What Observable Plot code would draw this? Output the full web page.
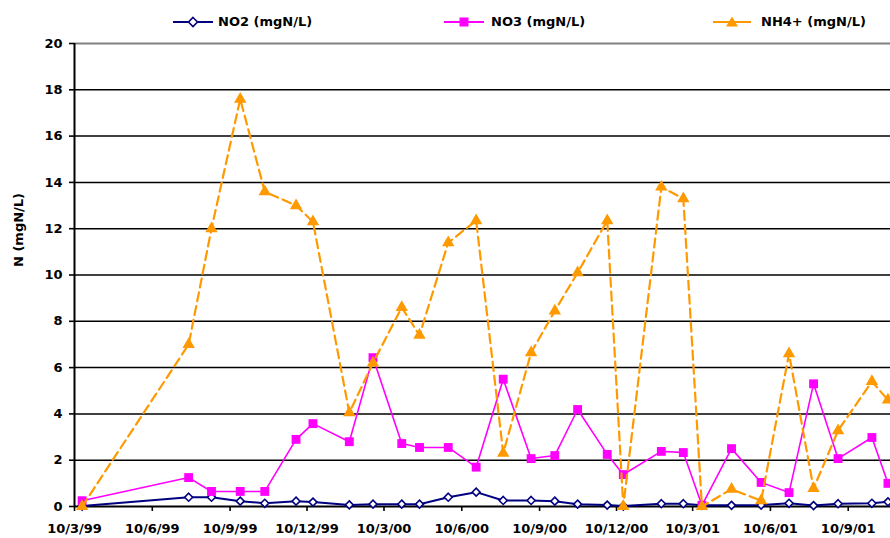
<!DOCTYPE html>
<html><head><meta charset="utf-8">
<script src="https://cdn.jsdelivr.net/npm/d3@7"></script>
<script src="https://cdn.jsdelivr.net/npm/@observablehq/plot@0.6"></script>
<style>
body{margin:0;background:#fff;font-family:"DejaVu Sans",sans-serif;font-weight:bold;font-size:13px;color:#000}
#wrap{position:relative;width:890px;height:538px;overflow:hidden;background:#fff}
#legend{position:relative;height:30px}
.sym{position:absolute;top:0;height:30px}
.lab{position:absolute;top:14px;line-height:16px;white-space:nowrap}
#chart svg [aria-label^="x-axis"] path,#chart svg [aria-label^="y-axis"] path,
#chart svg [aria-label^="x-axis"] line,#chart svg [aria-label^="y-axis"] line{stroke-width:1.6}
</style></head><body>
<div id="wrap"><div id="legend"></div><div id="chart"></div></div>
<script>
// sample dates (day/month/year)
const dates = ["19/3/1999","23/7/1999","19/8/1999","22/9/1999","21/10/1999","27/11/1999","17/12/1999",
  "29/1/2000","26/2/2000","31/3/2000","21/4/2000","25/5/2000","27/6/2000","29/7/2000","31/8/2000",
  "28/9/2000","25/10/2000","29/11/2000","18/12/2000","1/2/2001","27/2/2001","21/3/2001","25/4/2001",
  "30/5/2001","2/7/2001","31/7/2001","29/8/2001","8/10/2001","27/10/2001"];
const no2 = [0.02,0.40,0.40,0.23,0.14,0.23,0.19,0.07,0.10,0.10,0.10,0.40,0.62,0.26,0.26,
  0.23,0.10,0.06,0.02,0.12,0.12,0.05,0.05,0.06,0.14,0.04,0.12,0.14,0.20];
const no3 = [0.25,1.25,0.65,0.65,0.65,2.90,3.58,2.80,6.43,2.72,2.55,2.55,1.70,5.50,2.07,
  2.20,4.19,2.25,1.38,2.38,2.33,0.05,2.50,1.04,0.60,5.30,2.07,2.98,1.00];
const nh4 = [0.0,7.0,12.0,17.6,13.6,13.0,12.3,4.05,6.2,8.6,7.4,11.4,12.35,2.3,6.65,
  8.45,10.1,12.35,0.0,13.8,13.3,0.0,0.75,0.25,6.6,0.78,3.28,5.4,4.6];
const seriesNames = ["NO2 (mgN/L)","NO3 (mgN/L)","NH4+ (mgN/L)"];
const seriesColors = ["#000080","#FF00FF","#FF9900"];
const xTickLabels = ["10/3/99","10/6/99","10/9/99","10/12/99","10/3/00","10/6/00","10/9/00",
  "10/12/00","10/3/01","10/6/01","10/9/01"];
const yTicks = [0,2,4,6,8,10,12,14,16,18,20];
const xDomain = ["10/3/1999","30/10/2001"];
const yLabel = "N (mgN/L)";

const parse = d3.utcParse("%d/%m/%Y");
const parseTick = d3.utcParse("%d/%m/%y");
const tickDates = xTickLabels.map(parseTick);
const mk = vals => dates.map((d,i)=>({date: parse(d), v: vals[i]}));
const d2 = mk(no2), d3s = mk(no3), d4 = mk(nh4);

// legend
const legend = document.getElementById("legend");
const legPos = [[173,218],[444,491],[713,761]];
const symPaths = [
  "M0,-4.5L4.5,0L0,4.5L-4.5,0Z",
  "M-4.5,-4.5H4.5V4.5H-4.5Z",
  "M0,-5.5L6,4.5H-6Z"
];
seriesNames.forEach((name,i)=>{
  const [x0,tx] = legPos[i];
  const w = (i===2?38:40);
  const s = document.createElementNS("http://www.w3.org/2000/svg","svg");
  s.setAttribute("class","sym"); s.setAttribute("width",w+2); s.setAttribute("height",30);
  s.style.left = x0+"px";
  const c = seriesColors[i];
  s.innerHTML = `<line x1="0" x2="${w}" y1="22" y2="22" stroke="${c}" stroke-width="2"/>`+
    `<path transform="translate(${w/2},22)" d="${symPaths[i]}" fill="${i===0?'#fff':c}" stroke="${c}" stroke-width="${i===0?1.6:0}"/>`;
  legend.appendChild(s);
  const t = document.createElement("span");
  t.className = "lab"; t.style.left = tx+"px"; t.textContent = name;
  legend.appendChild(t);
});

const chart = Plot.plot({
  width: 890, height: 508,
  marginTop: 13, marginBottom: 32, marginLeft: 74, marginRight: 0,
  style: {fontFamily: "DejaVu Sans", fontSize: "13px", fontWeight: "bold", background: "white", color: "black", overflow: "visible"},
  x: {type: "utc", domain: xDomain.map(parse), ticks: tickDates,
      tickFormat: d => xTickLabels[tickDates.findIndex(t => +t === +d)],
      tickSize: 5, tickPadding: 12, label: null},
  y: {domain: [0,20], ticks: yTicks, tickSize: 5, tickPadding: 7, label: null},
  marks: [
    Plot.ruleY(yTicks.filter(v => v > 0 && v < 20), {stroke: "black", strokeWidth: 1.5}),
    Plot.ruleY([20], {stroke: "#808080", strokeWidth: 2}),
    Plot.ruleY([0], {stroke: "black", strokeWidth: 2}),
    Plot.ruleX([parse(xDomain[0])], {stroke: "black", strokeWidth: 2}),
    Plot.line(d2, {x: "date", y: "v", stroke: seriesColors[0], strokeWidth: 2}),
    Plot.dot(d2, {x: "date", y: "v", symbol: d3.symbolDiamond2, r: 3.6, fill: "white", stroke: seriesColors[0], strokeWidth: 1.6}),
    Plot.line(d3s, {x: "date", y: "v", stroke: seriesColors[1], strokeWidth: 1.6}),
    Plot.dot(d3s, {x: "date", y: "v", symbol: "square", r: 5, fill: seriesColors[1], stroke: "none"}),
    Plot.line(d4, {x: "date", y: "v", stroke: seriesColors[2], strokeWidth: 2.2, strokeDasharray: "9,5"}),
    Plot.dot(d4, {x: "date", y: "v", symbol: "triangle", r: 4.6, fill: seriesColors[2], stroke: "none"}),
    Plot.text([yLabel], {frameAnchor: "left", rotate: -90, dx: -56, dy: -8, fontSize: 13, fontWeight: "bold", fill: "black"})
  ]
});
document.getElementById("chart").appendChild(chart);
</script>
</body></html>
